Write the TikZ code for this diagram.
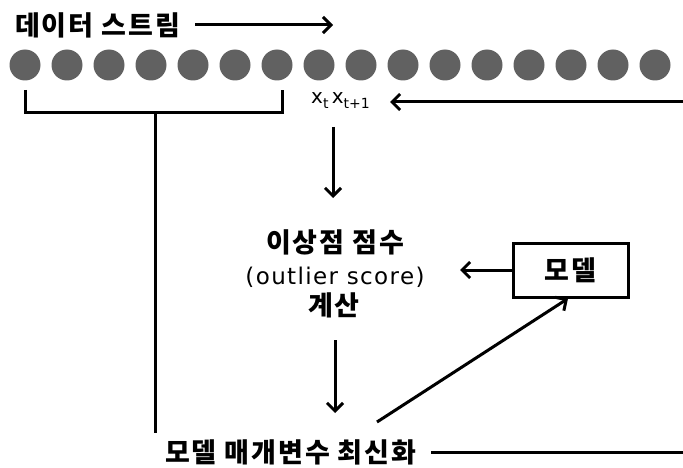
\documentclass[tikz,border=0pt]{standalone}
\usepackage{fontspec}
\setmainfont{Noto Sans CJK KR}
\newfontfamily\kr{Noto Sans CJK KR}[LetterSpace=7]
\newfontfamily\lat{DejaVu Sans}[LetterSpace=6]
\newfontfamily\latx{DejaVu Sans}
\usetikzlibrary{arrows.meta}
\tikzset{
  ln/.style={line width=3pt, black},
  arr/.style={ln, -{Straight Barb[length=8pt,width=16pt,line width=3pt]}},
  dot/.style={circle, fill=black!62, minimum size=31pt, inner sep=0pt},
  kt/.style={font=\kr\bfseries\fontsize{27}{30}\selectfont, inner sep=0pt},
  lt/.style={font=\lat\fontsize{23}{26}\selectfont, inner sep=0pt},
}
\newcommand{\sbs}[1]{\raisebox{-5pt}{\fontsize{14}{14}\selectfont #1}}
\begin{document}
\begin{tikzpicture}[x=1pt,y=-1pt]
\useasboundingbox (0,0) rectangle (683,468);
% data stream label and arrow
\node[kt, anchor=west] (stream) at (15,25) {데이터 스트림};
\coordinate (streamEnd) at (333,25);
\draw[arr] ([xshift=15pt]stream.east) -- (streamEnd);
% circles
\foreach \i in {0,...,15} {
  \node[dot] (c\i) at (25+42*\i, 65) {};
}
% bracket
\coordinate (bL) at (25,90);
\coordinate (bR) at (282,90);
\coordinate (bM) at (155,113);
\coordinate (bBot) at (155,433);
\draw[ln] (bL) |- (bM) -| (bR);
\draw[ln] (bM) -- (bBot);
% x_t label
\node[lt, font=\latx\fontsize{20}{22}\selectfont, anchor=base west] (xt) at (311,104) {x\sbs{t}\,x\sbs{t+1}};
\coordinate (rTop) at (683,102);
\coordinate (rTopEnd) at (390,102);
\draw[arr] (rTop) -- (rTopEnd);
% score
\coordinate (a1s) at (333,127);
\coordinate (a1e) at (333,198);
\draw[arr] (a1s) -- (a1e);
\node[kt, align=center] (sc1) at (335,242) {이상점 점수};
\node[lt] (sc2) at (335,277) {(outlier score)};
\node[kt] (sc3) at (334,305) {계산};
% model box
\node[draw, line width=3pt, minimum width=115pt, minimum height=54pt, inner sep=0pt, font=\kr\bfseries\fontsize{27}{30}\selectfont] (model) at (570.5,270) {모델};
\coordinate (mArrEnd) at (460,270);
\draw[arr] (model.west) -- (mArrEnd);
% second down arrow
\coordinate (a2s) at (335,340);
\coordinate (a2e) at (335,413);
\draw[arr] (a2s) -- (a2e);
% bottom
\node[kt, anchor=west] (upd) at (165,452) {모델 매개변수 최신화};
\coordinate (diagS) at (377,422);
\draw[arr] (diagS) -- (model.south -| 568,0);
\coordinate (bRight) at (683,452);
\draw[ln] ([xshift=15pt]upd.east) -- (bRight);
\end{tikzpicture}
\end{document}
